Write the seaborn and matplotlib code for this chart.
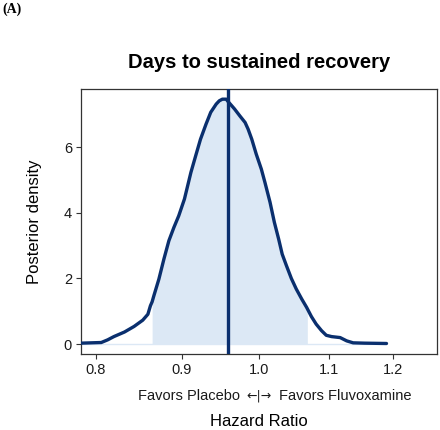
import matplotlib
matplotlib.use("Agg")
import matplotlib.pyplot as plt
import matplotlib.ticker as mticker
import seaborn as sns
import pandas as pd
import numpy as np

# Posterior density of the hazard ratio
hazard_ratio = [0.784, 0.795, 0.806, 0.813, 0.820, 0.832, 0.843, 0.853, 0.859, 0.862,
                0.864, 0.866, 0.872, 0.878, 0.884, 0.890, 0.896, 0.903, 0.911, 0.917,
                0.923, 0.930, 0.936, 0.943, 0.947, 0.951, 0.956, 0.958, 0.967, 0.974,
                0.981, 0.985, 0.990, 0.996, 1.003, 1.008, 1.015, 1.021, 1.027, 1.032,
                1.038, 1.045, 1.052, 1.060, 1.067, 1.068, 1.074, 1.081, 1.089, 1.096,
                1.104, 1.117, 1.127, 1.137, 1.155, 1.190]
density = [0.03, 0.04, 0.05, 0.13, 0.23, 0.37, 0.54, 0.73, 0.91, 1.17,
           1.29, 1.47, 1.98, 2.59, 3.15, 3.55, 3.91, 4.42, 5.23, 5.74,
           6.24, 6.70, 7.06, 7.31, 7.41, 7.46, 7.46, 7.40, 7.16, 6.95,
           6.75, 6.55, 6.24, 5.79, 5.33, 4.92, 4.32, 3.71, 3.20, 2.74,
           2.39, 2.00, 1.68, 1.37, 1.12, 1.08, 0.84, 0.61, 0.41, 0.27,
           0.23, 0.20, 0.10, 0.04, 0.03, 0.02]
ci_low, ci_high = 0.864, 1.068
point_estimate = 0.958

x_ticks = [0.8, 0.9, 1.0, 1.1, 1.2]
x_tick_labels = ["0.8", "0.9", "1.0", "1.1", "1.2"]
y_ticks = [0, 2, 4, 6]

title = "Days to sustained recovery"
y_label = "Posterior density"
x_label = "Hazard Ratio"
favors_left = "Favors Placebo"
favors_arrow = "\u2190|\u2192"
favors_right = "Favors Fluvoxamine"
panel_label = "(A)"

df = pd.DataFrame({"hr": hazard_ratio, "density": density})
ci = df[(df.hr >= ci_low) & (df.hr <= ci_high)]

sns.set_theme(style="white")
plt.rcParams["font.family"] = ["Liberation Sans", "DejaVu Sans"]

navy = "#0a2f6e"
fill = "#dce8f5"
grey = "#333333"

fig = plt.figure(figsize=(4.4, 4.3), dpi=100)
ax = fig.add_axes([81/440, 1-354/430, (437-81)/440, (354-89)/430])

ax.fill_between(ci.hr, 0, ci.density, color=fill, linewidth=0, zorder=1)
sns.lineplot(x=df.hr, y=np.zeros(len(df)), ax=ax, color=fill, linewidth=1.0, zorder=1)
sns.lineplot(data=df, x="hr", y="density", ax=ax, color=navy, linewidth=2.4,
             sort=True, estimator=None, zorder=3,
             solid_joinstyle="round", solid_capstyle="round")
ax.axvline(point_estimate, color=navy, linewidth=2.4, zorder=4)

ax.set_xscale("log")
ax.set_xlim(0.784, 1.275)
ax.set_ylim(-0.3, 7.77)
ax.xaxis.set_major_locator(mticker.FixedLocator(x_ticks))
ax.xaxis.set_major_formatter(mticker.FixedFormatter(x_tick_labels))
ax.xaxis.set_minor_locator(mticker.NullLocator())
ax.set_yticks(y_ticks)

for s in ax.spines.values():
    s.set_color(grey)
    s.set_linewidth(0.9)
ax.tick_params(axis="both", which="major", direction="out", length=3.5, width=0.8,
               color=grey, labelsize=10.5, labelcolor="#1a1a1a", pad=3, bottom=True, left=True)

ax.set_ylabel(y_label, fontsize=12, color="black", labelpad=16)
ax.set_xlabel("")
ax.set_title("")

fig.text(259/440, 1-62/430, title, ha="center", va="center", fontsize=14.5,
         fontweight="bold", color="black")
fy = 1 - 396/430
fig.text(240/440, fy, favors_left, ha="right", va="center", fontsize=10.5, color="#1a1a1a")
fig.text(259.5/440, fy, favors_arrow, ha="center", va="center", fontsize=9,
         color="#1a1a1a", family=["DejaVu Sans"])
fig.text(279/440, fy, favors_right, ha="left", va="center", fontsize=10.5, color="#1a1a1a")
fig.text(259/440, 1-422/430, x_label, ha="center", va="center", fontsize=12, color="black")
fig.text(2/440, 1-9/430, panel_label, ha="left", va="center", fontsize=10,
         fontweight="bold", family=["Liberation Serif", "DejaVu Serif"], color="black")

fig.savefig("out.png", dpi=100)
